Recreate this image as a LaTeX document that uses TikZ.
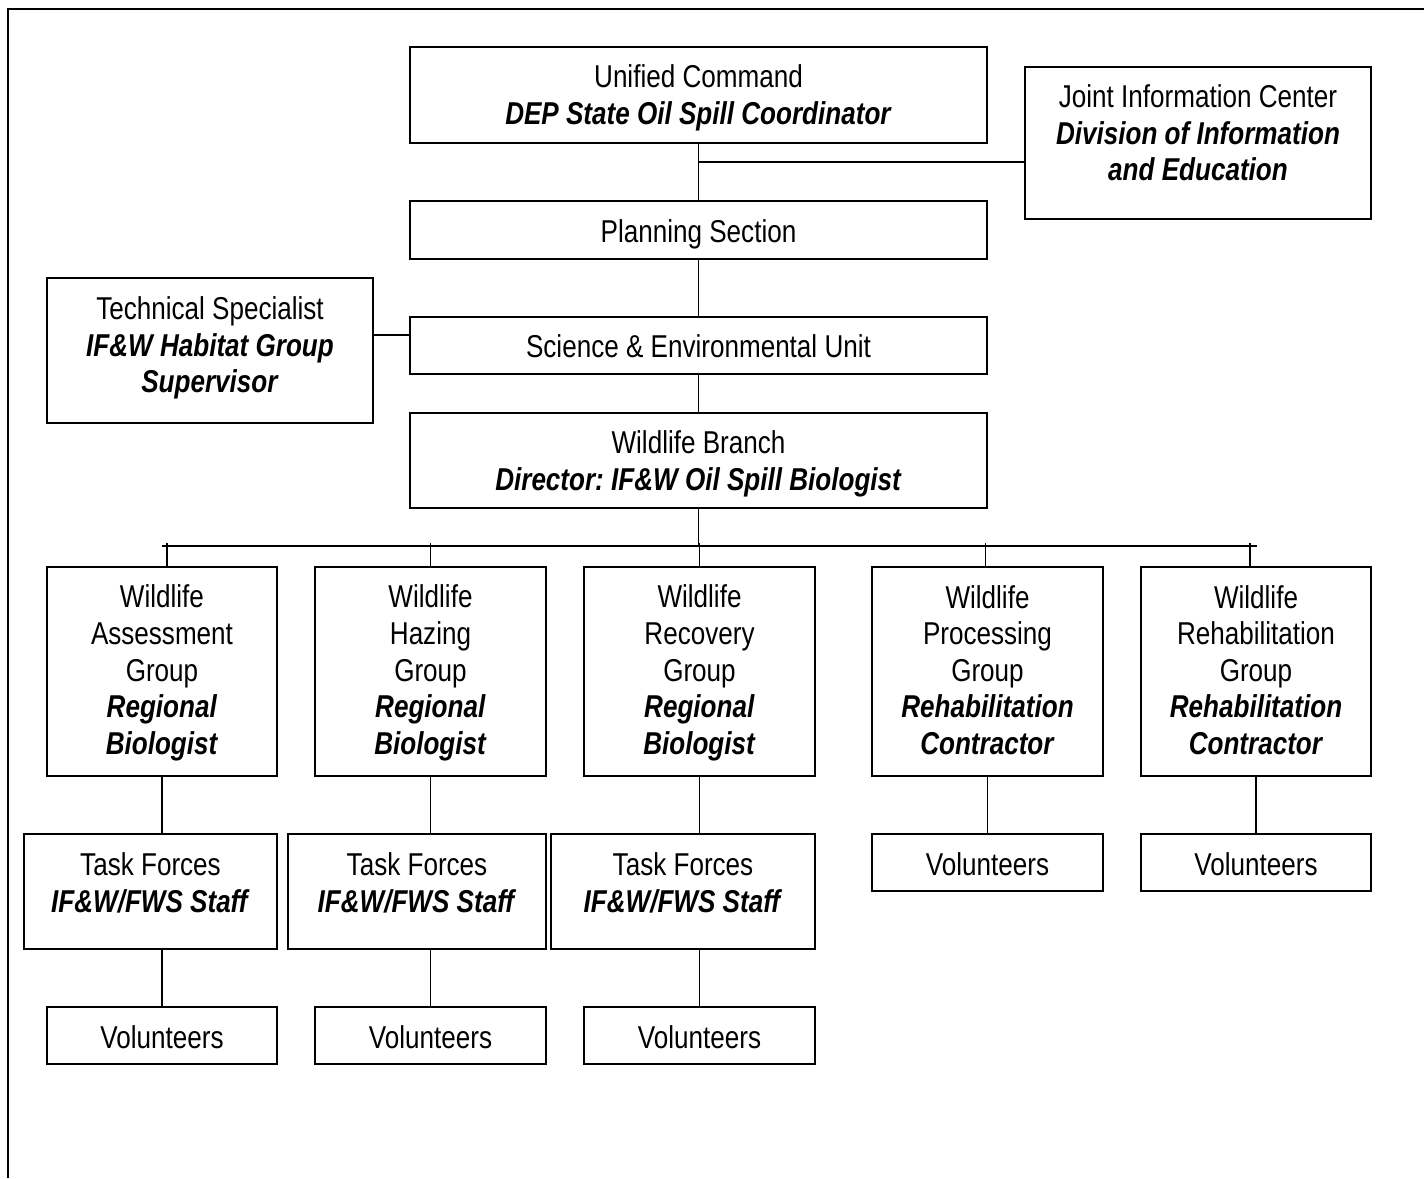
\documentclass[tikz,border=0pt]{standalone}
\usepackage{fontspec}
\setmainfont[FakeStretch=0.825]{Liberation Sans}
\newcommand\mybox[5]{\node[box,minimum width=#4*0.5pt,minimum height=#5*0.5pt] (#1) at (#2,#3) {};}
\newcommand\bi[1]{\textbf{\textit{#1}}}
\frenchspacing
\begin{document}
\begin{tikzpicture}[x=0.5pt,y=-0.5pt,
  box/.style={draw, line width=1pt, inner sep=0pt},
  txt/.style={align=center, font=\fontsize{15.8pt}{18.3pt}\selectfont, inner sep=0pt},
  conn/.style={line width=0.9pt}]
\useasboundingbox (0,0) rectangle (1424,1178);
\draw[line width=1.2pt] (8,1178) -- (8,9) -- (1424,9);

% boxes
\mybox{uc}{698.5}{95}{577}{96}
\mybox{jic}{1198}{143}{346}{152}
\mybox{ps}{698.5}{230}{577}{58}
\mybox{ts}{210}{350.5}{326}{145}
\mybox{se}{698.5}{345.5}{577}{57}
\mybox{wb}{698.5}{460.5}{577}{95}
\mybox{ga}{162}{671.5}{230}{209}
\mybox{gb}{430.5}{671.5}{231}{209}
\mybox{gc}{699.5}{671.5}{231}{209}
\mybox{gd}{987.5}{671.5}{231}{209}
\mybox{ge}{1256}{671.5}{230}{209}
\mybox{ta}{150.5}{891.5}{253}{115}
\mybox{tb}{417}{891.5}{258}{115}
\mybox{tc}{683}{891.5}{264}{115}
\mybox{va}{162}{1035.5}{230}{57}
\mybox{vb}{430.5}{1035.5}{231}{57}
\mybox{vc}{699.5}{1035.5}{231}{57}
\mybox{vd}{987.5}{862.5}{231}{57}
\mybox{ve}{1256}{862.5}{230}{57}

% texts
\node[txt] (uct) at (698.5,98) {Unified Command\\\bi{DEP State Oil Spill Coordinator}};
\node[txt] (jict) at (1198,133) {Joint Information Center\\\bi{Division of Information}\\\bi{and Education}};
\node[txt] (pst) at (698.5,234) {Planning Section};
\node[txt] (tst) at (210,348) {Technical Specialist\\\bi{IF\&W Habitat Group}\\\bi{Supervisor}};
\node[txt] (set) at (698.5,346) {Science \& Environmental Unit};
\node[txt] (wbt) at (698.5,464) {Wildlife Branch\\\bi{Director: IF\&W Oil Spill Biologist}};
\node[txt] (gat) at (162,673) {Wildlife\\Assessment\\Group\\\bi{Regional}\\\bi{Biologist}};
\node[txt] (gbt) at (430.5,673) {Wildlife\\Hazing\\Group\\\bi{Regional}\\\bi{Biologist}};
\node[txt] (gct) at (699.5,673) {Wildlife\\Recovery\\Group\\\bi{Regional}\\\bi{Biologist}};
\node[txt] (gdt) at (987.5,670) {Wildlife\\Processing\\Group\\\bi{Rehabilitation}\\\bi{Contractor}};
\node[txt] (get) at (1256,670) {Wildlife\\Rehabilitation\\Group\\\bi{Rehabilitation}\\\bi{Contractor}};
\node[txt] (tat) at (150.5,883) {Task Forces\\\bi{IF\&W/FWS Staff}};
\node[txt] (tbt) at (417,883) {Task Forces\\\bi{IF\&W/FWS Staff}};
\node[txt] (tct) at (683,883) {Task Forces\\\bi{IF\&W/FWS Staff}};
\node[txt] (vat) at (162,1037) {Volunteers};
\node[txt] (vbt) at (430.5,1037) {Volunteers};
\node[txt] (vct) at (699.5,1037) {Volunteers};
\node[txt] (vdt) at (987.5,864) {Volunteers};
\node[txt] (vet) at (1256,864) {Volunteers};

% connectors
\coordinate (j1) at (699,162);
\coordinate (tsy) at (0,335);
\coordinate (busL) at (162,546);
\coordinate (busR) at (1257,546);
\coordinate (tick) at (0,543);
\draw[conn] (uc.south) -- (ps.north);
\draw[conn] (j1) -- (j1 -| jic.west);
\draw[conn] (ps.south) -- (se.north);
\draw[conn] (ts.east |- tsy) -- (se.west |- tsy);
\draw[conn] (se.south) -- (wb.south |- wb.north);
\draw[conn] (wb.south) -- (wb.south |- busL);
\draw[conn] (busL) -- (busR);
\draw[conn] ([xshift=2.5pt]ga.north |- tick) -- ([xshift=2.5pt]ga.north);
\draw[conn] (gb.north |- tick) -- (gb.north);
\draw[conn] (gc.north |- tick) -- (gc.north);
\draw[conn] ([xshift=-1pt]gd.north |- tick) -- ([xshift=-1pt]gd.north);
\draw[conn] ([xshift=-3pt]ge.north |- tick) -- ([xshift=-3pt]ge.north);
\draw[conn] (ga.south) -- (ga.south |- ta.north);
\draw[conn] (gb.south) -- (gb.south |- tb.north);
\draw[conn] (gc.south) -- (gc.south |- tc.north);
\draw[conn] (gd.south) -- (vd.north);
\draw[conn] (ge.south) -- (ve.north);
\draw[conn] (va.north |- ta.south) -- (va.north);
\draw[conn] (vb.north |- tb.south) -- (vb.north);
\draw[conn] (vc.north |- tc.south) -- (vc.north);
\end{tikzpicture}
\end{document}
